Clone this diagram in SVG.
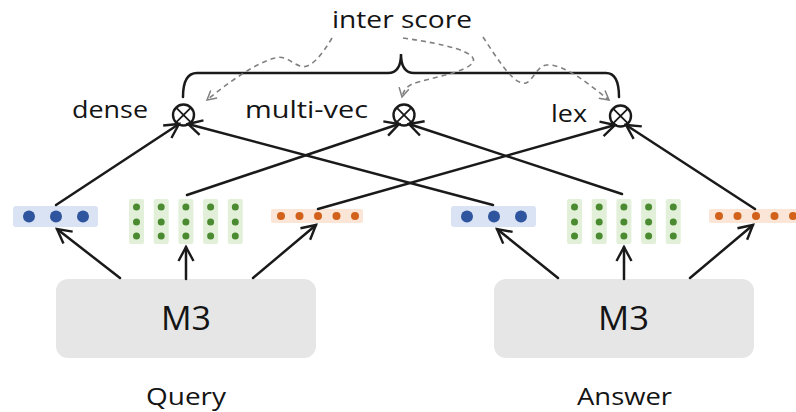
<svg xmlns="http://www.w3.org/2000/svg" width="796" height="412" viewBox="0 0 796 412">
  <defs>
    <style>
      .lbl { font-family: "Open Sans", "Noto Sans", "Liberation Sans", sans-serif; font-weight: 500; fill: #141414; }
      .edge { fill: none; stroke: #1a1a1a; stroke-width: 2.5; stroke-linecap: round; }
      .dash { fill: none; stroke: #808080; stroke-width: 1.6; stroke-dasharray: 5 4; }
      .box { fill: #e6e6e6; }
      .op circle { fill: #ffffff; stroke: #1a1a1a; stroke-width: 2.4; }
      .op path { stroke: #1a1a1a; stroke-width: 1.8; }
      .bbar { fill: #dae3f3; }
      .bdot { fill: #2f559f; }
      .gcol { fill: #e2f0d9; }
      .gdot { fill: #4a8a30; }
      .obar { fill: #fbe5d6; }
      .odot { fill: #d2621b; }
    </style>
    <marker id="head" markerUnits="userSpaceOnUse" markerWidth="20" markerHeight="20" refX="16" refY="10" orient="auto">
      <path d="M2,2.5 L16,10 L2,17.5" fill="none" stroke="#1a1a1a" stroke-width="2.4" stroke-linejoin="miter"/>
    </marker>
    <marker id="dhead" markerUnits="userSpaceOnUse" markerWidth="14" markerHeight="14" refX="11" refY="7" orient="auto">
      <path d="M2,2 L11,7 L2,12" fill="none" stroke="#808080" stroke-width="1.5"/>
    </marker>
  </defs>

  <rect width="796" height="412" fill="#ffffff"/>

  <!-- score label and grouping brace -->
  <g id="inter-score">
    <text class="lbl" x="332" y="28" font-size="24" textLength="140" lengthAdjust="spacingAndGlyphs">inter score</text>
  </g>
  <g id="brace">
    <path class="edge" d="M183,97 Q183,73 197,73 L388,73 Q401,73 401,54 Q401,73 414,73 L606,73 Q619,73 619,97" stroke-linecap="butt"/>
  </g>

  <!-- scoring operators -->
  <g id="op-dense" class="op">
    <circle cx="183.5" cy="115" r="10.5"/>
    <path d="M176.1,107.6 L190.9,122.4 M190.9,107.6 L176.1,122.4"/>
    <text class="lbl" x="72" y="118" font-size="24" textLength="76" lengthAdjust="spacingAndGlyphs">dense</text>
  </g>
  <g id="op-multivec" class="op">
    <circle cx="404" cy="115" r="10.5"/>
    <path d="M396.6,107.6 L411.4,122.4 M411.4,107.6 L396.6,122.4"/>
    <text class="lbl" x="245" y="118" font-size="24" textLength="123" lengthAdjust="spacingAndGlyphs">multi-vec</text>
  </g>
  <g id="op-lex" class="op">
    <circle cx="620.5" cy="116" r="10.5"/>
    <path d="M613.1,108.6 L627.9,123.4 M627.9,108.6 L613.1,123.4"/>
    <text class="lbl" x="551" y="122" font-size="24" textLength="36" lengthAdjust="spacingAndGlyphs">lex</text>
  </g>

  <!-- query side embeddings -->
  <g id="q-dense">
    <rect class="bbar" x="13" y="206" width="85" height="21" rx="3"/>
    <circle class="bdot" cx="29" cy="216.5" r="6"/>
    <circle class="bdot" cx="56" cy="216.5" r="6"/>
    <circle class="bdot" cx="83" cy="216.5" r="6"/>
  </g>
  <g id="q-multivec">
    <rect class="gcol" x="129" y="199" width="15" height="45" rx="2"/>
    <rect class="gcol" x="153.7" y="199" width="15" height="45" rx="2"/>
    <rect class="gcol" x="178.4" y="199" width="15" height="45" rx="2"/>
    <rect class="gcol" x="203.1" y="199" width="15" height="45" rx="2"/>
    <rect class="gcol" x="227.8" y="199" width="15" height="45" rx="2"/>
    <g class="gdot">
      <circle cx="136.5" cy="207" r="3.5"/><circle cx="136.5" cy="222" r="3.5"/><circle cx="136.5" cy="236" r="3.5"/>
      <circle cx="161.2" cy="207" r="3.5"/><circle cx="161.2" cy="222" r="3.5"/><circle cx="161.2" cy="236" r="3.5"/>
      <circle cx="185.9" cy="207" r="3.5"/><circle cx="185.9" cy="222" r="3.5"/><circle cx="185.9" cy="236" r="3.5"/>
      <circle cx="210.6" cy="207" r="3.5"/><circle cx="210.6" cy="222" r="3.5"/><circle cx="210.6" cy="236" r="3.5"/>
      <circle cx="235.3" cy="207" r="3.5"/><circle cx="235.3" cy="222" r="3.5"/><circle cx="235.3" cy="236" r="3.5"/>
    </g>
  </g>
  <g id="q-lex">
    <rect class="obar" x="271" y="209" width="92" height="14" rx="2"/>
    <g class="odot">
      <circle cx="281" cy="216" r="4"/><circle cx="299.5" cy="216" r="4"/><circle cx="318" cy="216" r="4"/>
      <circle cx="336.5" cy="216" r="4"/><circle cx="355" cy="216" r="4"/>
    </g>
  </g>

  <!-- answer side embeddings -->
  <g id="a-dense">
    <rect class="bbar" x="451" y="206" width="85" height="21" rx="3"/>
    <circle class="bdot" cx="467" cy="216.5" r="6"/>
    <circle class="bdot" cx="494" cy="216.5" r="6"/>
    <circle class="bdot" cx="521" cy="216.5" r="6"/>
  </g>
  <g id="a-multivec">
    <rect class="gcol" x="567" y="199" width="15" height="45" rx="2"/>
    <rect class="gcol" x="591.7" y="199" width="15" height="45" rx="2"/>
    <rect class="gcol" x="616.4" y="199" width="15" height="45" rx="2"/>
    <rect class="gcol" x="641.1" y="199" width="15" height="45" rx="2"/>
    <rect class="gcol" x="665.8" y="199" width="15" height="45" rx="2"/>
    <g class="gdot">
      <circle cx="574.5" cy="207" r="3.5"/><circle cx="574.5" cy="222" r="3.5"/><circle cx="574.5" cy="236" r="3.5"/>
      <circle cx="599.2" cy="207" r="3.5"/><circle cx="599.2" cy="222" r="3.5"/><circle cx="599.2" cy="236" r="3.5"/>
      <circle cx="623.9" cy="207" r="3.5"/><circle cx="623.9" cy="222" r="3.5"/><circle cx="623.9" cy="236" r="3.5"/>
      <circle cx="648.6" cy="207" r="3.5"/><circle cx="648.6" cy="222" r="3.5"/><circle cx="648.6" cy="236" r="3.5"/>
      <circle cx="673.3" cy="207" r="3.5"/><circle cx="673.3" cy="222" r="3.5"/><circle cx="673.3" cy="236" r="3.5"/>
    </g>
  </g>
  <g id="a-lex">
    <rect class="obar" x="709" y="209" width="92" height="14" rx="2"/>
    <g class="odot">
      <circle cx="719" cy="216" r="4"/><circle cx="737.5" cy="216" r="4"/><circle cx="756" cy="216" r="4"/>
      <circle cx="774.5" cy="216" r="4"/><circle cx="793" cy="216" r="4"/>
    </g>
  </g>

  <!-- encoders -->
  <g id="q-encoder">
    <rect class="box" x="56" y="279" width="260" height="79" rx="12"/>
    <text class="lbl" x="161" y="330" font-size="32" textLength="50" lengthAdjust="spacingAndGlyphs">M3</text>
  </g>
  <g id="a-encoder">
    <rect class="box" x="494" y="279" width="260" height="79" rx="12"/>
    <text class="lbl" x="598" y="330" font-size="32" textLength="51" lengthAdjust="spacingAndGlyphs">M3</text>
  </g>

  <!-- input captions -->
  <g id="q-caption">
    <text class="lbl" x="146" y="405" font-size="24" textLength="80" lengthAdjust="spacingAndGlyphs">Query</text>
  </g>
  <g id="a-caption">
    <text class="lbl" x="577" y="405" font-size="24" textLength="95" lengthAdjust="spacingAndGlyphs">Answer</text>
  </g>

  <!-- connectors -->
  <g id="connectors">
    <!-- encoder outputs -->
    <line class="edge" x1="120" y1="278" x2="57" y2="229" marker-end="url(#head)"/>
    <line class="edge" x1="186" y1="279" x2="186" y2="247" marker-end="url(#head)"/>
    <line class="edge" x1="253" y1="278" x2="316" y2="225" marker-end="url(#head)"/>
    <line class="edge" x1="558" y1="278" x2="497" y2="229" marker-end="url(#head)"/>
    <line class="edge" x1="624" y1="279" x2="624" y2="247" marker-end="url(#head)"/>
    <line class="edge" x1="690" y1="278" x2="753" y2="225" marker-end="url(#head)"/>
    <!-- embeddings into scoring operators -->
    <line class="edge" x1="56" y1="205" x2="179" y2="124" marker-end="url(#head)"/>
    <line class="edge" x1="493" y1="205" x2="188" y2="124" marker-end="url(#head)"/>
    <line class="edge" x1="187" y1="195" x2="399" y2="124" marker-end="url(#head)"/>
    <line class="edge" x1="622" y1="194" x2="409" y2="124" marker-end="url(#head)"/>
    <line class="edge" x1="318" y1="209" x2="615" y2="125" marker-end="url(#head)"/>
    <line class="edge" x1="755" y1="209" x2="626" y2="125" marker-end="url(#head)"/>
    <!-- score links -->
    <path class="dash" d="M332,38 C322,55 310,70 300,66 C290,62 285,55 275,58 C255,63 225,85 207,100" marker-end="url(#dhead)"/>
    <path class="dash" d="M403,38 C445,44 478,52 473,62 C468,72 430,78 412,84 Q404,88 402,97" marker-end="url(#dhead)"/>
    <path class="dash" d="M483,37 C495,55 510,80 522,83 C532,86 535,66 547,65 C565,64 590,85 609,100" marker-end="url(#dhead)"/>
  </g>
</svg>
